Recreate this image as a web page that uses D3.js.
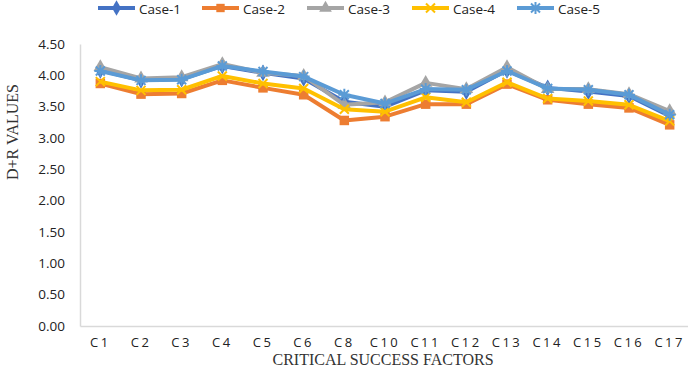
<!DOCTYPE html>
<html>
<head>
<meta charset="utf-8">
<script src="https://cdn.jsdelivr.net/npm/d3@7"></script>
<style>
  body { margin: 0; background: #fff; }
  svg { display: block; }
</style>
</head>
<body>
<div id="chart"></div>
<script>
// categories and series
var categories = ["C1","C2","C3","C4","C5","C6","C8","C10","C11","C12","C13","C14","C15","C16","C17"];
var seriesNames = ["Case-1","Case-2","Case-3","Case-4","Case-5"];
var case1 = [4.08,3.92,3.94,4.15,4.04,3.95,3.58,3.50,3.76,3.74,4.08,3.80,3.74,3.67,3.35];
var case2 = [3.87,3.70,3.71,3.92,3.80,3.69,3.28,3.34,3.54,3.54,3.86,3.61,3.54,3.48,3.21];
var case3 = [4.13,3.95,3.97,4.18,4.04,3.99,3.53,3.57,3.88,3.78,4.13,3.78,3.78,3.70,3.43];
var case4 = [3.90,3.76,3.77,3.99,3.87,3.79,3.46,3.42,3.65,3.57,3.89,3.63,3.59,3.53,3.27];
var case5 = [4.07,3.92,3.93,4.15,4.06,3.98,3.69,3.55,3.78,3.77,4.07,3.79,3.77,3.69,3.37];
var yTicks = [0,0.5,1,1.5,2,2.5,3,3.5,4,4.5];

var allSeries = [case1, case2, case3, case4, case5];
var colors = ["#4472C4","#ED7D31","#A5A5A5","#FFC000","#5B9BD5"];
var symbols = ["diamond","square","triangle","cross","star"];

var w = 688, h = 369;
var margin = {left: 80, right: -2, top: 44, bottom: 43};

var svg = d3.select("#chart").append("svg").attr("width", w).attr("height", h);

var x = d3.scaleBand().domain(categories).range([margin.left, w - margin.right]);
var y = d3.scaleLinear().domain([0, 4.5]).range([h - margin.bottom, margin.top]);

// axes
var yAxis = svg.append("g").attr("transform", "translate(" + margin.left + ",0)")
  .call(d3.axisLeft(y).tickValues(yTicks).tickFormat(d3.format(".2f")).tickSize(0).tickPadding(15));
yAxis.select(".domain").attr("stroke", "#d9d9d9").attr("stroke-width", 1.5);
yAxis.selectAll("text").attr("font-family", "'Open Sans', sans-serif").attr("font-size", 13.5).attr("fill", "#222");

var xAxis = svg.append("g").attr("transform", "translate(0," + (h - margin.bottom) + ")")
  .call(d3.axisBottom(x).tickSize(0).tickPadding(12));
xAxis.select(".domain").attr("stroke", "#d9d9d9").attr("stroke-width", 1.5);
xAxis.selectAll("text").attr("font-family", "'Open Sans', sans-serif").attr("font-size", 13)
  .attr("letter-spacing", "2.5px").attr("fill", "#222");

// axis titles
svg.append("text").attr("transform", "translate(18,132) rotate(-90)")
  .attr("text-anchor", "middle").attr("font-family", "'Liberation Serif', serif")
  .attr("font-size", 16).attr("fill", "#333").text("D+R VALUES");
svg.append("text").attr("x", 383).attr("y", 365).attr("text-anchor", "middle")
  .attr("font-family", "'Liberation Serif', serif").attr("font-size", 16).attr("fill", "#333")
  .text("CRITICAL SUCCESS FACTORS");

var cx = function(d, i) { return x(categories[i]) + x.bandwidth() / 2; };
var line = d3.line().x(cx).y(function(d) { return y(d); });

function marker(g, type, color, size) {
  if (type == "cross") {
    g.append("path").attr("d", "M-4.5,-4.5L4.5,4.5M-4.5,4.5L4.5,-4.5")
      .attr("stroke", color).attr("stroke-width", 2).attr("fill", "none");
  } else if (type == "star") {
    g.append("path").attr("d", "M0,-6L0,6M-6,0L6,0M-4.5,-4.5L4.5,4.5M-4.5,4.5L4.5,-4.5")
      .attr("stroke", color).attr("stroke-width", 2).attr("fill", "none");
  } else {
    var sym = {diamond: d3.symbolDiamond, square: d3.symbolSquare, triangle: d3.symbolTriangle}[type];
    g.append("path").attr("d", d3.symbol().type(sym).size(size)).attr("fill", color);
  }
}

allSeries.forEach(function(data, s) {
  svg.append("path").datum(data).attr("d", line)
    .attr("fill", "none").attr("stroke", colors[s]).attr("stroke-width", 4)
    .attr("stroke-linejoin", "round");
  data.forEach(function(d, i) {
    var g = svg.append("g").attr("transform", "translate(" + cx(d, i) + "," + y(d) + ")");
    marker(g, symbols[s], colors[s], s == 1 ? 90 : 80);
  });
});

// legend
var legendX = [98, 202, 307, 412, 517];
seriesNames.forEach(function(name, s) {
  var lg = svg.append("g").attr("transform", "translate(" + legendX[s] + ",8)");
  lg.append("line").attr("x1", 0).attr("x2", 37).attr("stroke", colors[s]).attr("stroke-width", 4);
  var m = lg.append("g").attr("transform", "translate(18.5,0)");
  marker(m, symbols[s], colors[s], 70);
  lg.append("text").attr("x", 41).attr("y", 5.5).attr("font-family", "'Open Sans', sans-serif")
    .attr("font-size", 13.5).attr("fill", "#222").text(name);
});
</script>
</body>
</html>
